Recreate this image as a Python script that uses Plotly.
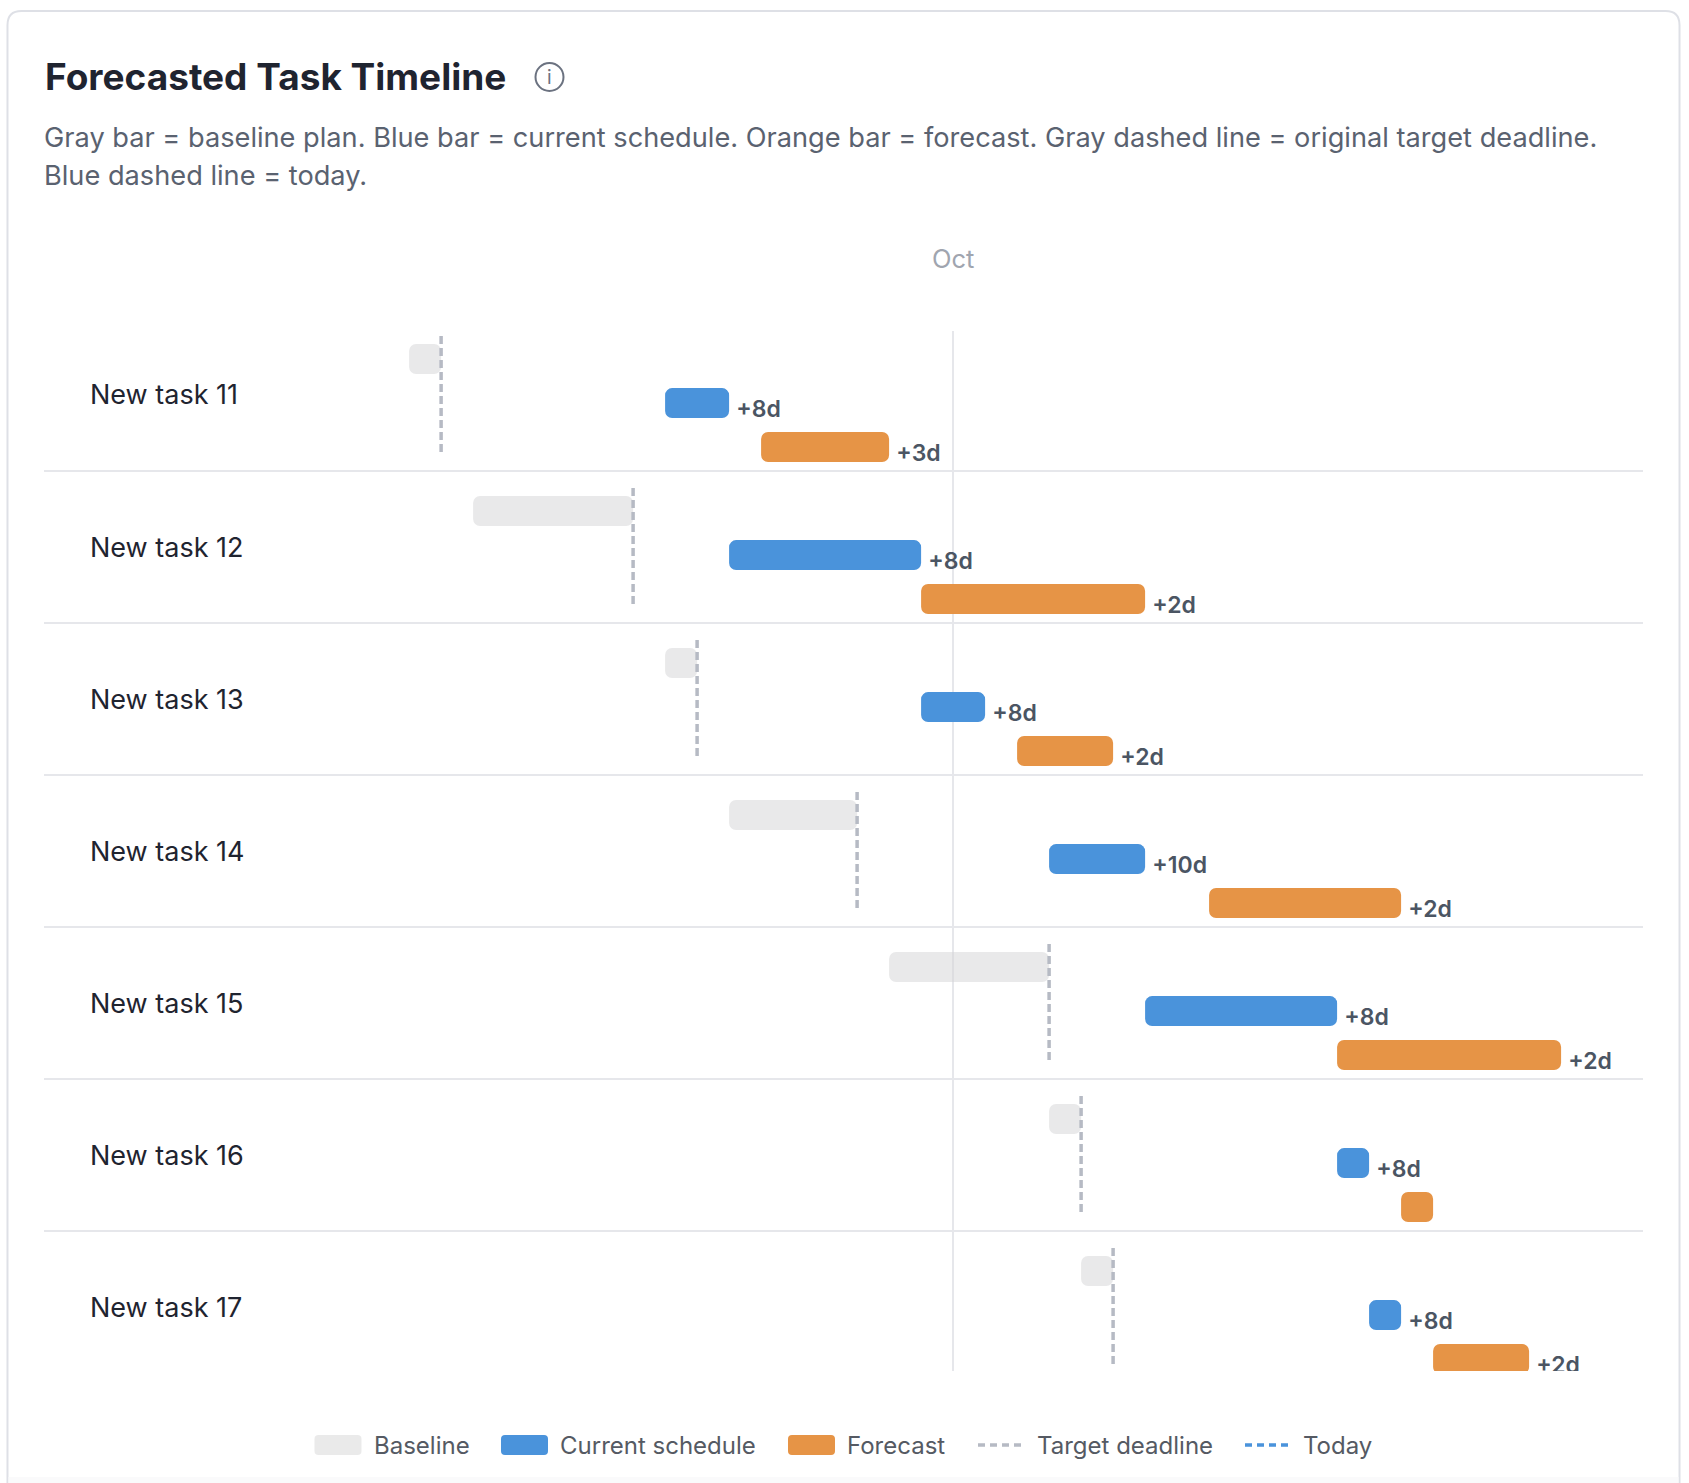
import pandas as pd
import plotly.graph_objects as go

# ---- data ----
tasks = ["New task 11", "New task 12", "New task 13", "New task 14",
         "New task 15", "New task 16", "New task 17"]

baseline_start = ["2024-09-14", "2024-09-16", "2024-09-22", "2024-09-24", "2024-09-29", "2024-10-04", "2024-10-05"]
baseline_end = ["2024-09-15", "2024-09-21", "2024-09-23", "2024-09-28", "2024-10-04", "2024-10-05", "2024-10-06"]
target_deadline = ["2024-09-15", "2024-09-21", "2024-09-23", "2024-09-28", "2024-10-04", "2024-10-05", "2024-10-06"]

current_start = ["2024-09-22", "2024-09-24", "2024-09-30", "2024-10-04", "2024-10-07", "2024-10-13", "2024-10-14"]
current_end = ["2024-09-24", "2024-09-30", "2024-10-02", "2024-10-07", "2024-10-13", "2024-10-14", "2024-10-15"]
current_delta = ["+8d", "+8d", "+8d", "+10d", "+8d", "+8d", "+8d"]

forecast_start = ["2024-09-25", "2024-09-30", "2024-10-03", "2024-10-09", "2024-10-13", "2024-10-15", "2024-10-16"]
forecast_end = ["2024-09-29", "2024-10-07", "2024-10-06", "2024-10-15", "2024-10-20", "2024-10-16", "2024-10-19"]
forecast_delta = ["+3d", "+2d", "+2d", "+2d", "+2d", "", "+2d"]

month_ticks = ["2024-10-01"]
month_labels = ["Oct"]

legend_labels = ["Baseline", "Current schedule", "Forecast", "Target deadline", "Today"]

# ---- page geometry (pixels) ----
W, H = 1689, 1483
ML, MR, MT, MB = 44, 46, 331, 112
PW, PH = W - ML - MR, H - MT - MB

GRAY_BAR = "rgba(212,212,214,0.5)"
BLUE = "#4A93DB"
ORANGE = "#E69446"
DASH_GRAY = "#B6BAC4"
TEXT_DARK = "#1F2430"
TEXT_MID = "#4B5563"
FONT = "Inter"

BAR_H = 0.197
OFF_BASE, OFF_CUR, OFF_FC = -0.237, 0.053, 0.342
TXT_DY = 0.055


def px(x):
    return (x - ML) / PW


def py(y):
    return 1 - (y - MT) / PH


def rrect(x0, y0, x1, y1, r):
    pts = [("M", x0 + r, y0), ("L", x1 - r, y0), ("Q", x1, y0, x1, y0 + r),
           ("L", x1, y1 - r), ("Q", x1, y1, x1 - r, y1), ("L", x0 + r, y1),
           ("Q", x0, y1, x0, y1 - r), ("L", x0, y0 + r), ("Q", x0, y0, x0 + r, y0)]
    out = ""
    for p in pts:
        cmd, vals = p[0], p[1:]
        coords = []
        for i in range(0, len(vals), 2):
            coords.append(f"{px(vals[i]):.5f},{py(vals[i + 1]):.5f}")
        out += cmd + " " + " ".join(coords) + " "
    return out + "Z"


def dur_ms(starts, ends):
    return [(pd.Timestamp(e) - pd.Timestamp(s)).total_seconds() * 1000 for s, e in zip(starts, ends)]


rows = list(range(len(tasks)))
fig = go.Figure()

for starts, ends, off, color in [(baseline_start, baseline_end, OFF_BASE, GRAY_BAR),
                                 (current_start, current_end, OFF_CUR, BLUE),
                                 (forecast_start, forecast_end, OFF_FC, ORANGE)]:
    fig.add_trace(go.Bar(
        orientation="h", base=starts, x=dur_ms(starts, ends),
        y=[r + off for r in rows], width=BAR_H,
        marker=dict(color=color, cornerradius=7, line_width=0),
        hoverinfo="skip", showlegend=False))

# target deadline dashed lines
tx, ty = [], []
for r, t in zip(rows, target_deadline):
    tx += [t, t, None]
    ty += [r - 0.388, r + 0.388, None]
fig.add_trace(go.Scatter(x=tx, y=ty, mode="lines",
                         line=dict(color=DASH_GRAY, width=3.5, dash="8px,4px"),
                         hoverinfo="skip", showlegend=False))

# slip labels
for ends, labels, off in [(current_end, current_delta, OFF_CUR), (forecast_end, forecast_delta, OFF_FC)]:
    fig.add_trace(go.Scatter(
        x=ends, y=[r + off + TXT_DY for r in rows], mode="markers+text",
        marker=dict(size=10, opacity=0), text=labels, textposition="middle right",
        textfont=dict(family=FONT, size=23, color=TEXT_MID, weight=600),
        cliponaxis=True, hoverinfo="skip", showlegend=False))

shapes = []
annotations = []

# card (runs past the bottom of the page)
shapes.append(dict(type="path", xref="paper", yref="paper", layer="below",
                   path=rrect(7.5, 11, 1679.5, 1530, 14),
                   line=dict(color="#DEE0E6", width=2), fillcolor="white"))
shapes.append(dict(type="rect", xref="paper", yref="paper", layer="below",
                   x0=px(8.5), x1=px(1678.5), y0=py(1477), y1=py(1490),
                   fillcolor="#FAFAFB", line_width=0))

# row separators
for i in rows[:-1]:
    shapes.append(dict(type="line", xref="paper", yref="y", x0=0, x1=1, y0=i + 0.5, y1=i + 0.5,
                       line=dict(color="#E6E7EB", width=2), layer="below"))

# task names
for r, name in zip(rows, tasks):
    annotations.append(dict(xref="paper", yref="y", x=px(88), y=r, text=name, showarrow=False,
                            xanchor="left", yanchor="middle",
                            font=dict(family=FONT, size=27, color=TEXT_DARK)))

# title, info icon, subtitle
annotations.append(dict(xref="paper", yref="paper", x=px(43), y=py(77), text="Forecasted Task Timeline",
                        showarrow=False, xanchor="left", yanchor="middle",
                        font=dict(family=FONT, size=37, color=TEXT_DARK, weight=700)))
shapes.append(dict(type="circle", xref="paper", yref="paper", x0=px(535.5), x1=px(563.5),
                   y0=py(63), y1=py(91), line=dict(color="#6B7280", width=2)))
annotations.append(dict(xref="paper", yref="paper", x=px(549.5), y=py(77.5), text="i", showarrow=False,
                        xanchor="center", yanchor="middle",
                        font=dict(family=FONT, size=19, color="#6B7280")))
for line_y, line_text in [(137, "Gray bar = baseline plan. Blue bar = current schedule. Orange bar = forecast. "
                                "Gray dashed line = original target deadline."),
                          (175, "Blue dashed line = today.")]:
    annotations.append(dict(xref="paper", yref="paper", x=px(42), y=py(line_y), text=line_text,
                            showarrow=False, xanchor="left", yanchor="middle",
                            font=dict(family=FONT, size=27.2, color="#5A6270")))

# legend drawn by hand: (kind, color, symbol x0, symbol x1, text x)
legend_layout = [("box", "#EAEAEA", 314.5, 361.5, 372),
                 ("box", BLUE, 501, 548, 558),
                 ("box", ORANGE, 788, 835, 845),
                 ("dash", DASH_GRAY, 978, 1026, 1035),
                 ("dash", BLUE, 1245, 1293, 1301)]
LEG_Y = 1445
for label, (kind, color, x0, x1, xt) in zip(legend_labels, legend_layout):
    if kind == "box":
        shapes.append(dict(type="path", xref="paper", yref="paper",
                           path=rrect(x0, LEG_Y - 10, x1, LEG_Y + 10, 4),
                           fillcolor=color, line_width=0))
    else:
        shapes.append(dict(type="line", xref="paper", yref="paper", x0=px(x0), x1=px(x1),
                           y0=py(LEG_Y), y1=py(LEG_Y),
                           line=dict(color=color, width=3.5, dash="7px,5px")))
    annotations.append(dict(xref="paper", yref="paper", x=px(xt), y=py(LEG_Y), text=label,
                            showarrow=False, xanchor="left", yanchor="middle",
                            font=dict(family=FONT, size=24, color="#555A63")))

fig.update_layout(
    width=W, height=H, autosize=False,
    margin=dict(l=ML, r=MR, t=MT, b=MB, pad=0),
    paper_bgcolor="white", plot_bgcolor="rgba(0,0,0,0)",
    barmode="overlay", showlegend=False,
    font=dict(family=FONT),
    shapes=shapes, annotations=annotations,
    xaxis=dict(type="date", side="top", range=["2024-09-02 14:10", "2024-10-22 13:26"],
               tickvals=month_ticks, ticktext=month_labels, ticks="",
               tickfont=dict(family=FONT, size=25.5, color="#A0A5AF"),
               ticklabelstandoff=57,
               showgrid=True, gridcolor="#E6E7EB", gridwidth=1.5,
               zeroline=False, showline=False, fixedrange=True),
    yaxis=dict(range=[6.421, -0.421], showgrid=False, zeroline=False,
               showticklabels=False, showline=False, fixedrange=True),
)

fig.write_html("out.html", config={"displayModeBar": False},
               post_script="document.body.style.margin='0';document.body.style.overflow='hidden';")
